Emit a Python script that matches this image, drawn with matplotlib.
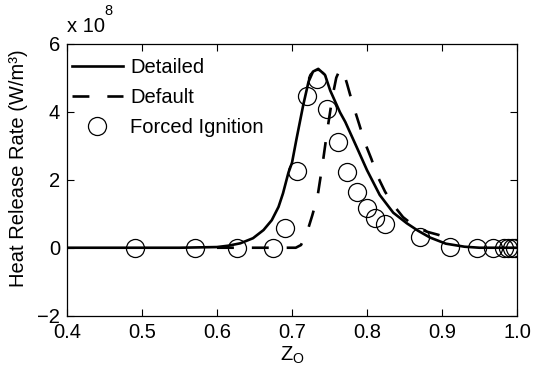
import matplotlib
matplotlib.use("Agg")
import matplotlib.pyplot as plt

plt.rcParams['font.family'] = ['Liberation Sans', 'DejaVu Sans']
plt.rcParams['mathtext.fontset'] = 'custom'
plt.rcParams['mathtext.rm'] = 'Liberation Sans'
plt.rcParams['mathtext.default'] = 'regular'

# Detailed chemistry (solid line), values in 1e8 W/m^3
detailed_x = [0.40, 0.50, 0.55, 0.60, 0.615, 0.631, 0.648, 0.662, 0.673, 0.682, 0.688, 0.695,
              0.700, 0.706, 0.715, 0.722, 0.728, 0.735, 0.744, 0.751, 0.764, 0.771, 0.786,
              0.800, 0.817, 0.835, 0.853, 0.868, 0.884, 0.905, 0.930, 0.950, 1.00]
detailed_y = [0.0, 0.0, 0.0, 0.02, 0.06, 0.13, 0.28, 0.52, 0.81, 1.2, 1.6, 2.19,
              2.5, 3.2, 4.2, 4.88, 5.18, 5.26, 5.08, 4.62, 3.98, 3.7, 2.97,
              2.28, 1.55, 1.03, 0.72, 0.5, 0.3, 0.12, 0.03, 0.0, 0.0]

# Default model (dashed line)
default_x = [0.60, 0.705, 0.712, 0.720, 0.727, 0.734, 0.741, 0.747, 0.754, 0.759, 0.764,
             0.768, 0.773, 0.780, 0.790, 0.797, 0.806, 0.813, 0.824, 0.835, 0.848, 0.864,
             0.880, 0.895, 0.915]
default_y = [0.0, 0.0, 0.08, 0.45, 0.95, 1.5, 2.5, 3.45, 4.45, 5.0, 5.25,
             5.2, 4.85, 4.3, 3.6, 3.1, 2.6, 2.15, 1.65, 1.26, 0.9, 0.62,
             0.47, 0.38, 0.23]

# Forced ignition (circles)
forced_x = [0.490, 0.570, 0.627, 0.674, 0.691, 0.706, 0.720, 0.733, 0.746, 0.761, 0.773,
            0.786, 0.800, 0.811, 0.824, 0.871, 0.911, 0.946, 0.968, 0.982, 0.988, 0.993, 0.997]
forced_y = [0.0, 0.0, 0.0, 0.0, 0.57, 2.26, 4.47, 4.95, 4.08, 3.1, 2.24,
            1.65, 1.16, 0.86, 0.69, 0.33, 0.03, 0.0, 0.0, 0.0, 0.0, 0.0, 0.0]

xticks = [0.4, 0.5, 0.6, 0.7, 0.8, 0.9, 1.0]
xticklabels = ['0.4', '0.5', '0.6', '0.7', '0.8', '0.9', '1.0']
yticks = [-2, 0, 2, 4, 6]

fs = 14.5
fig = plt.figure(figsize=(5.36, 3.75), dpi=100)
ax = fig.add_axes([0.125, 0.158, 0.8396, 0.7255])

lw = 1.9
ax.plot(detailed_x, detailed_y, color='black', lw=lw, label='Detailed')
ax.plot(default_x, default_y, color='black', lw=lw, dashes=(6.4, 6.8), label='Default')
ax.plot(forced_x, forced_y, linestyle='none', marker='o', markersize=13,
        markerfacecolor='none', markeredgecolor='black', markeredgewidth=0.9,
        label='Forced Ignition')

ax.set_xlim(0.4, 1.0)
ax.set_ylim(-2, 6)
ax.set_xticks(xticks)
ax.set_xticklabels(xticklabels)
ax.set_yticks(yticks)
ax.tick_params(direction='in', length=5, width=0.8, labelsize=fs, top=True, right=True,
               pad=5)
for s in ax.spines.values():
    s.set_linewidth(0.9)

ax.set_xlabel('Z$_{O}$', fontsize=fs, labelpad=2)
ax.set_ylabel('Heat Release Rate (W/m³)', fontsize=fs)
ax.yaxis.set_label_coords(-0.087, 0.544)
ax.text(0.0, 1.044, 'x 10', transform=ax.transAxes, fontsize=fs, ha='left', va='baseline')
ax.text(0.083, 1.105, '8', transform=ax.transAxes, fontsize=fs * 0.72, ha='left', va='baseline')

ax.legend(loc='upper left', frameon=False, fontsize=fs, handlelength=2.53,
          handletextpad=0.35, labelspacing=0.56, numpoints=1,
          borderaxespad=0.0, borderpad=0.0, bbox_to_anchor=(0.011, 0.949))

fig.savefig('out.png', dpi=100)
